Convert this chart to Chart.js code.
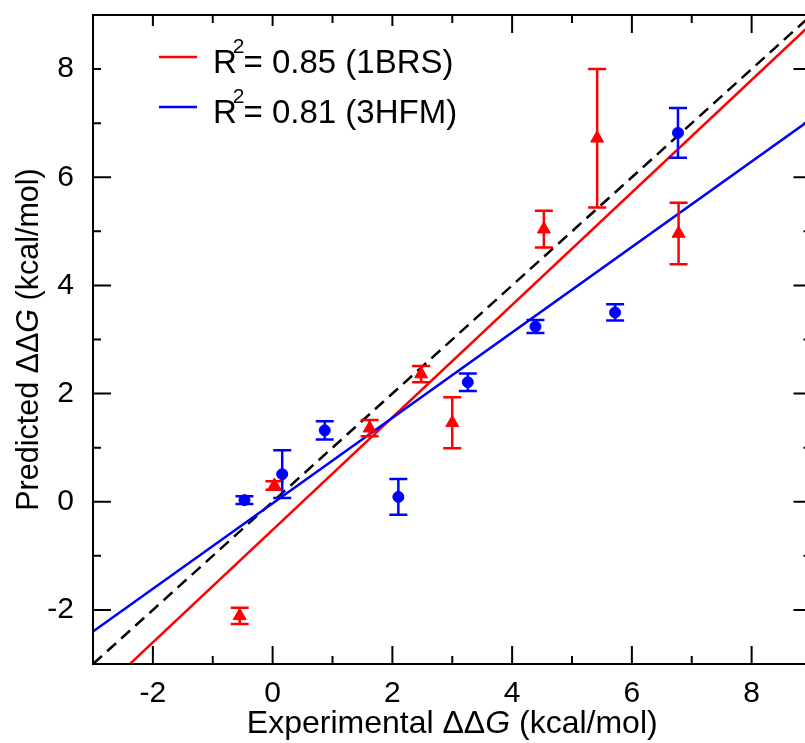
<!DOCTYPE html>
<html>
<head>
<meta charset="utf-8">
<script src="https://cdn.jsdelivr.net/npm/chart.js@4.4.1/dist/chart.umd.min.js"></script>
<style>
  html, body { margin: 0; padding: 0; background: #fff; overflow: hidden; }
  #box { width: 820px; height: 743px; position: relative; }
</style>
</head>
<body>
<div id="box"><canvas id="myChart"></canvas></div>
<script>
// values (kcal/mol)
var redX   = [-0.55, 0.03, 1.62, 2.48, 3.00, 4.53, 5.42, 6.78];
var redY   = [-2.11, 0.30, 1.36, 2.36, 1.46, 5.04, 6.72, 4.96];
var redErr = [0.15, 0.08, 0.15, 0.15, 0.47, 0.34, 1.28, 0.57];

var blueX   = [-0.47, 0.16, 0.87, 2.10, 3.26, 4.39, 5.72, 6.77];
var blueY   = [0.03, 0.51, 1.32, 0.09, 2.21, 3.24, 3.50, 6.82];
var blueErr = [0.07, 0.44, 0.17, 0.33, 0.16, 0.12, 0.15, 0.46];

// fit lines: slope, intercept
var redFit  = [1.04, -0.52];
var blueFit = [0.79, -0.03];

var r2Values = ["0.85", "0.81"];
var pdbNames = ["1BRS", "3HFM"];

var AXIS_MIN = -3;
var AXIS_MAX = 9;

var FONT = '"Liberation Sans", Arial, Helvetica, sans-serif';

function toPoints(xs, ys) {
    var pts = [];
    for (var i = 0; i < xs.length; i++) pts.push({x: xs[i], y: ys[i]});
    return pts;
}

function fitLine(fit) {
    return [
        {x: AXIS_MIN, y: fit[0] * AXIS_MIN + fit[1]},
        {x: AXIS_MAX, y: fit[0] * AXIS_MAX + fit[1]}
    ];
}

// error bars, drawn just before each scatter set
var errorBars = {
    id: "errorBars",
    beforeDatasetDraw: function(chart, args) {
        var ds = chart.data.datasets[args.index];
        if (!ds.errors) return;
        var ctx = chart.ctx;
        var xs = chart.scales.x, ys = chart.scales.y;
        ctx.save();
        ctx.strokeStyle = ds.borderColor;
        ctx.lineWidth = 2.5;
        for (var i = 0; i < ds.data.length; i++) {
            var px = xs.getPixelForValue(ds.data[i].x);
            var top = ys.getPixelForValue(ds.data[i].y + ds.errors[i]);
            var bot = ys.getPixelForValue(ds.data[i].y - ds.errors[i]);
            ctx.beginPath();
            ctx.moveTo(px, top); ctx.lineTo(px, bot);
            ctx.moveTo(px - 9, top); ctx.lineTo(px + 9, top);
            ctx.moveTo(px - 9, bot); ctx.lineTo(px + 9, bot);
            ctx.stroke();
        }
        ctx.restore();
    }
};

// inward ticks on all four sides, frame, legend box and axis titles
var frame = {
    id: "frame",
    beforeDatasetsDraw: function(chart) {
        var ctx = chart.ctx, a = chart.chartArea;
        var xs = chart.scales.x, ys = chart.scales.y;
        ctx.save();
        ctx.strokeStyle = "#000";
        ctx.lineWidth = 2;
        ctx.beginPath();
        for (var v = AXIS_MIN + 1; v < AXIS_MAX; v++) {
            var len = (v % 2 === 0) ? 18 : 8;
            var px = xs.getPixelForValue(v);
            ctx.moveTo(px, a.bottom); ctx.lineTo(px, a.bottom - len);
            ctx.moveTo(px, a.top); ctx.lineTo(px, a.top + len);
            var py = ys.getPixelForValue(v);
            ctx.moveTo(a.left, py); ctx.lineTo(a.left + len, py);
            ctx.moveTo(a.right, py); ctx.lineTo(a.right - len, py);
        }
        ctx.stroke();
        ctx.restore();
    },
    afterDatasetsDraw: function(chart) {
        var ctx = chart.ctx, a = chart.chartArea;
        ctx.save();
        // legend
        ctx.fillStyle = "#fff";
        ctx.fillRect(101, 26, 380, 110);
        var sets = [chart.data.datasets[1], chart.data.datasets[2]];
        for (var i = 0; i < sets.length; i++) {
            var base = 73 + i * 50;
            ctx.strokeStyle = sets[i].borderColor;
            ctx.lineWidth = 2.5;
            ctx.beginPath();
            ctx.moveTo(159, base - 16); ctx.lineTo(197, base - 16);
            ctx.stroke();
            ctx.fillStyle = "#000";
            ctx.textBaseline = "alphabetic";
            ctx.textAlign = "left";
            ctx.font = "33px " + FONT;
            ctx.fillText("R", 213, base);
            var rw = ctx.measureText("R").width;
            ctx.font = "21px " + FONT;
            ctx.fillText("2", 213 + rw - 4, base - 20);
            var sw = ctx.measureText("2").width;
            ctx.font = "33px " + FONT;
            ctx.fillText(sets[i].legendText, 213 + rw - 5 + sw, base);
        }
        // frame
        ctx.strokeStyle = "#000";
        ctx.lineWidth = 2;
        ctx.strokeRect(a.left, a.top, a.right - a.left, a.bottom - a.top);
        ctx.restore();
    },
    afterDraw: function(chart) {
        var ctx = chart.ctx, a = chart.chartArea;
        ctx.save();
        ctx.fillStyle = "#000";
        ctx.textBaseline = "alphabetic";
        ctx.textAlign = "left";
        function drawParts(ps, size, cx, cy) {
            var w = 0;
            ps.forEach(function(p) { ctx.font = p[1] + size + "px " + FONT; w += ctx.measureText(p[0]).width; });
            var x = cx - w / 2;
            ps.forEach(function(p) {
                ctx.font = p[1] + size + "px " + FONT;
                ctx.fillText(p[0], x, cy);
                x += ctx.measureText(p[0]).width;
            });
        }
        drawParts([["Experimental \u0394\u0394", ""], ["G", "italic "], [" (kcal/mol)", ""]], 32, (a.left + a.right) / 2, 733);
        ctx.translate(38, (a.top + a.bottom) / 2);
        ctx.rotate(-Math.PI / 2);
        drawParts([["Predicted \u0394\u0394", ""], ["G", "italic "], [" (kcal/mol)", ""]], 30.5, 0, 0);
        ctx.restore();
    }
};

var tickFont = {family: FONT, size: 30};

var ctx = document.getElementById("myChart").getContext("2d");
var myChart = new Chart(ctx, {
    type: "scatter",
    data: {
        datasets: [{
            type: "line",
            data: [{x: AXIS_MIN, y: AXIS_MIN}, {x: AXIS_MAX, y: AXIS_MAX}],
            borderColor: "#000",
            borderWidth: 2.5,
            borderDash: [12, 7],
            pointRadius: 0,
            fill: false,
            order: 5
        }, {
            type: "line",
            data: fitLine(redFit),
            borderColor: "#ff0000",
            borderWidth: 2.5,
            pointRadius: 0,
            fill: false,
            legendText: "= " + r2Values[0] + " (" + pdbNames[0] + ")",
            order: 4
        }, {
            type: "line",
            data: fitLine(blueFit),
            borderColor: "#0000ff",
            borderWidth: 2.5,
            pointRadius: 0,
            fill: false,
            legendText: "= " + r2Values[1] + " (" + pdbNames[1] + ")",
            order: 3
        }, {
            data: toPoints(redX, redY),
            errors: redErr,
            pointStyle: "triangle",
            pointRadius: 7.5,
            backgroundColor: "#ff0000",
            borderColor: "#ff0000",
            borderWidth: 1,
            order: 2
        }, {
            data: toPoints(blueX, blueY),
            errors: blueErr,
            pointStyle: "circle",
            pointRadius: 5.5,
            backgroundColor: "#0000ff",
            borderColor: "#0000ff",
            borderWidth: 1,
            order: 1
        }]
    },
    options: {
        responsive: true,
        maintainAspectRatio: false,
        animation: false,
        layout: {padding: {top: 15, right: 7, left: 0, bottom: 0}},
        plugins: {legend: {display: false}, tooltip: {enabled: false}},
        scales: {
            x: {
                type: "linear",
                min: AXIS_MIN, max: AXIS_MAX,
                grid: {display: false},
                border: {display: false},
                ticks: {
                    stepSize: 1, color: "#000", font: tickFont, padding: 4, maxRotation: 0,
                    callback: function(v) { return (v % 2 === 0 && v > AXIS_MIN && v < AXIS_MAX) ? String(v) : ""; }
                },
                afterFit: function(scale) { scale.height = 79; scale.paddingLeft = 0; scale.paddingRight = 0; }
            },
            y: {
                type: "linear",
                min: AXIS_MIN, max: AXIS_MAX,
                grid: {display: false},
                border: {display: false},
                ticks: {
                    stepSize: 1, color: "#000", font: tickFont, padding: 11,
                    callback: function(v) { return (v % 2 === 0 && v > AXIS_MIN && v < AXIS_MAX) ? String(v) : ""; }
                },
                afterFit: function(scale) { scale.width = 93; scale.paddingTop = 0; scale.paddingBottom = 0; }
            }
        }
    },
    plugins: [errorBars, frame]
});
</script>
</body>
</html>
